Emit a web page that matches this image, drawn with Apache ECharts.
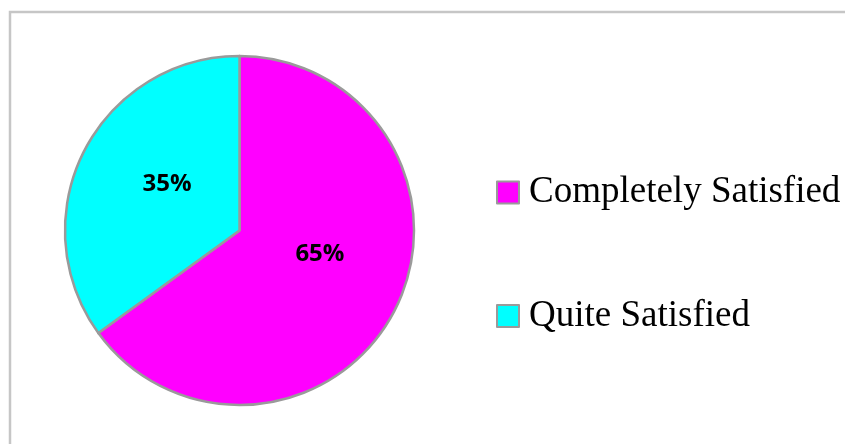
<!DOCTYPE html>
<html>
<head>
<meta charset="utf-8">
<script src="https://cdn.jsdelivr.net/npm/echarts@6/dist/echarts.min.js"></script>
<style>
  html, body { margin: 0; padding: 0; background: #ffffff; }
  #chart { width: 845px; height: 444px; }
</style>
</head>
<body>
<div id="chart"></div>
<script>
// Satisfaction breakdown (percent of respondents)
const categories = ['Completely Satisfied', 'Quite Satisfied'];
const shares = [65, 35];
const colors = ['#ff00ff', '#00ffff'];
// label nudges inside each slice: blank trailing line height (lifts text by half) and left padding
const labelLift = [34, 10];
const labelShiftX = [0, 16];

const chart = echarts.init(document.getElementById('chart'), null, { renderer: 'canvas' });

const pieData = categories.map((name, i) => ({
  name: name,
  value: shares[i],
  itemStyle: { color: colors[i] },
  label: {
    formatter: '{v|{c}%}\n{g|\u00a0}',
    padding: [0, 0, 0, labelShiftX[i]],
    rich: {
      v: {
        fontFamily: '"Open Sans", sans-serif',
        fontWeight: 'bold',
        fontSize: 24,
        lineHeight: 30,
        color: '#000000'
      },
      g: { fontSize: 2, lineHeight: labelLift[i] }
    }
  }
}));

chart.setOption({
  animation: false,
  backgroundColor: '#ffffff',
  graphic: [{
    type: 'rect',
    left: 7.5,
    top: 9.5,
    shape: { width: 900, height: 500 },
    style: { fill: 'none', stroke: '#c6c6c6', lineWidth: 2.5 },
    silent: true,
    z: -10
  }],
  legend: {
    orient: 'vertical',
    left: 491,
    top: 169,
    itemWidth: 22,
    itemHeight: 22,
    itemGap: 86.5,
    icon: 'rect',
    itemStyle: { borderColor: '#9a9a9a', borderWidth: 2 },
    textStyle: {
      fontFamily: '"Liberation Serif", "Times New Roman", serif',
      fontSize: 37,
      lineHeight: 37,
      color: '#000000',
      padding: [0, 0, 0, 5]
    },
    data: categories
  },
  series: [{
    type: 'pie',
    center: [239.5, 230.5],
    radius: 174.5,
    startAngle: 90,
    clockwise: true,
    avoidLabelOverlap: false,
    itemStyle: { borderColor: '#9a9a9a', borderWidth: 2.5 },
    label: {
      show: true,
      position: 'inside',
      fontFamily: '"Open Sans", sans-serif',
      fontWeight: 'bold',
      fontSize: 24,
      color: '#000000'
    },
    labelLine: { show: false },
    emphasis: { disabled: true },
    data: pieData
  }]
});
</script>
</body>
</html>
